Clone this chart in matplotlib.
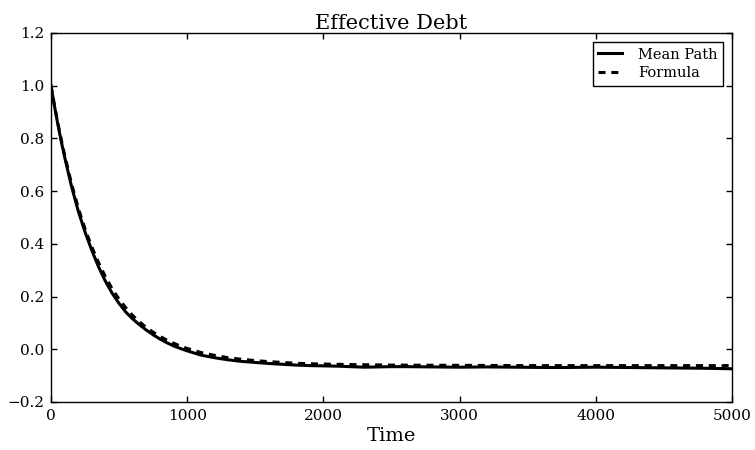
import matplotlib
matplotlib.use("Agg")
import matplotlib.pyplot as plt

time_mean = [0, 25, 50, 75, 100, 150, 200, 250, 300, 350, 400, 450, 500, 550,
             600, 650, 700, 750, 800, 850, 900, 950, 1000, 1100, 1200, 1300,
             1400, 1500, 1600, 1700, 1800, 1900, 2000, 2100, 2200, 2300, 2400,
             2500, 2600, 2800, 3000, 3200, 3400, 3600, 3800, 4000, 4200, 4400,
             4600, 4800, 5000]
mean_path = [1.000, 0.925, 0.855, 0.790, 0.730, 0.620, 0.525, 0.445, 0.375,
             0.312, 0.258, 0.212, 0.174, 0.141, 0.115, 0.093, 0.073, 0.055,
             0.039, 0.025, 0.013, 0.003, -0.006, -0.022, -0.032, -0.040,
             -0.046, -0.050, -0.054, -0.057, -0.060, -0.062, -0.063, -0.064,
             -0.066, -0.068, -0.067, -0.066, -0.066, -0.067, -0.068, -0.067,
             -0.068, -0.069, -0.069, -0.068, -0.069, -0.070, -0.071, -0.072,
             -0.074]

time_formula = [0, 25, 50, 75, 100, 150, 200, 250, 300, 350, 400, 450, 500,
                550, 600, 650, 700, 750, 800, 850, 900, 950, 1000, 1100, 1200,
                1300, 1400, 1500, 1600, 1700, 1800, 1900, 2000, 2200, 2500,
                3000, 3500, 4000, 4500, 5000]
formula = [1.000, 0.928, 0.860, 0.797, 0.738, 0.630, 0.537, 0.457, 0.388,
           0.328, 0.275, 0.229, 0.190, 0.157, 0.128, 0.104, 0.083, 0.065,
           0.049, 0.035, 0.023, 0.012, 0.003, -0.012, -0.023, -0.032, -0.038,
           -0.043, -0.047, -0.050, -0.053, -0.055, -0.056, -0.058, -0.060,
           -0.061, -0.062, -0.062, -0.062, -0.062]

plt.rcParams['font.family'] = ['DejaVu Serif']
plt.rcParams['mathtext.fontset'] = 'dejavuserif'

fig = plt.figure(figsize=(7.55, 4.5), dpi=100)
ax = fig.add_axes([0.0675, 0.1067, 0.902, 0.82])
ax.plot(time_mean, mean_path, color='black', lw=2.2, label='Mean Path')
ax.plot(time_formula, formula, color='black', lw=2.2, ls='--',
        dashes=(2.3, 1.9), label='Formula')
ax.set_xlim(0, 5000)
ax.set_ylim(-0.2, 1.2)
ax.set_xticks([0, 1000, 2000, 3000, 4000, 5000])
ax.set_yticks([-0.2, 0.0, 0.2, 0.4, 0.6, 0.8, 1.0, 1.2])
ax.tick_params(direction='in', top=True, right=True, length=4, width=1,
               labelsize=11, pad=5)
for s in ax.spines.values():
    s.set_linewidth(1)
ax.set_title('Effective Debt', fontsize=15, pad=3)
ax.set_xlabel('Time', fontsize=14, labelpad=3)
leg = ax.legend(loc='upper right', fontsize=10.5, fancybox=False,
                framealpha=1, edgecolor='black', handlelength=1.6,
                handletextpad=1.1, borderpad=0.4, labelspacing=0.3,
                borderaxespad=0.6)
leg.get_frame().set_linewidth(1)
fig.savefig('out.png', dpi=100, facecolor='white')
